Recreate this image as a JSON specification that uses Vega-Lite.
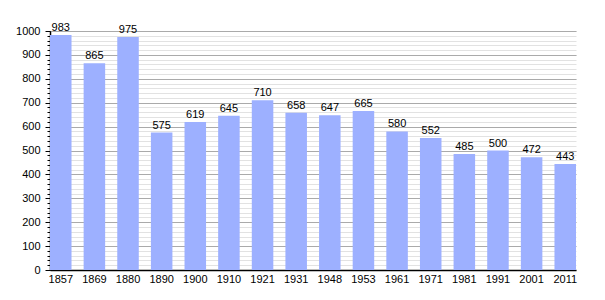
{
  "$schema": "https://vega.github.io/schema/vega-lite/v6.json",
  "autosize": {"type": "none"},
  "width": 526,
  "height": 239,
  "padding": {"left": 50, "top": 31, "right": 29, "bottom": 30},
  "background": "white",
  "config": {
    "view": {"stroke": null},
    "font": "Liberation Sans",
    "axis": {"labelFont": "Liberation Sans", "labelFontSize": 11, "labelColor": "#000", "domainColor": "#000", "tickColor": "#000"}
  },
  "data": {
    "values": [
      {"year": "1857", "pop": 983},
      {"year": "1869", "pop": 865},
      {"year": "1880", "pop": 975},
      {"year": "1890", "pop": 575},
      {"year": "1900", "pop": 619},
      {"year": "1910", "pop": 645},
      {"year": "1921", "pop": 710},
      {"year": "1931", "pop": 658},
      {"year": "1948", "pop": 647},
      {"year": "1953", "pop": 665},
      {"year": "1961", "pop": 580},
      {"year": "1971", "pop": 552},
      {"year": "1981", "pop": 485},
      {"year": "1991", "pop": 500},
      {"year": "2001", "pop": 472},
      {"year": "2011", "pop": 443}
    ]
  },
  "encoding": {
    "x": {
      "field": "year", "type": "ordinal", "sort": null,
      "scale": {"paddingInner": 0.36, "paddingOuter": 0},
      "axis": {"title": null, "labelAngle": 0, "ticks": false, "labelPadding": 3, "domainWidth": 1.5, "grid": false}
    }
  },
  "layer": [
    {
      "mark": {"type": "bar", "color": "#9db0ff"},
      "encoding": {
        "y": {
          "field": "pop", "type": "quantitative",
          "scale": {"domain": [0, 1000], "nice": false},
          "axis": {"title": null, "orient": "left", "values": [0,20,40,60,80,100,120,140,160,180,200,220,240,260,280,300,320,340,360,380,400,420,440,460,480,500,520,540,560,580,600,620,640,660,680,700,720,740,760,780,800,820,840,860,880,900,920,940,960,980,1000], "labels": false, "tickSize": 3, "grid": true, "gridColor": "#e2e2e2", "gridWidth": 1, "domain": false, "zindex": 0}
        }
      }
    },
    {
      "mark": {"type": "text", "baseline": "alphabetic", "dy": -4, "fontSize": 11, "color": "#000"},
      "encoding": {
        "y": {
          "field": "pop", "type": "quantitative",
          "axis": {"title": null, "orient": "left", "format": "d", "values": [0,100,200,300,400,500,600,700,800,900,1000], "tickSize": 5, "labelPadding": 5, "grid": true, "gridColor": "#aaaaaa", "gridWidth": 1, "domainWidth": 1.5, "zindex": 0}
        },
        "text": {"field": "pop", "type": "quantitative", "format": "d"}
      }
    }
  ],
  "resolve": {"axis": {"y": "independent"}}
}
